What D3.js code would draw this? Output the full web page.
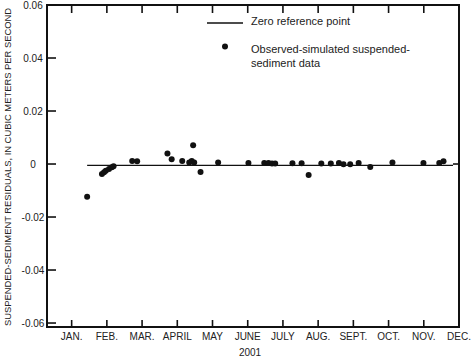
<!DOCTYPE html>
<html>
<head>
<meta charset="utf-8">
<script src="https://cdn.jsdelivr.net/npm/d3@7"></script>
<style>
  body { margin: 0; background: #fff; }
  svg { font-family: "Liberation Sans", Arial, Helvetica, sans-serif; }
</style>
</head>
<body>
<div id="chart"></div>
<script>
// month index: 0 = JAN. ... 11 = DEC.
var months = ["JAN.", "FEB.", "MAR.", "APRIL", "MAY", "JUNE", "JULY", "AUG.", "SEPT.", "OCT.", "NOV.", "DEC."];
var yTicks = [0.06, 0.04, 0.02, 0, -0.02, -0.04, -0.06];
var yTickLabels = ["0.06", "0.04", "0.02", "0", "-0.02", "-0.04", "-0.06"];

// observed-simulated residuals (time as fractional month index)
var obsTime = [0.44, 0.86, 0.92, 0.97, 1.06, 1.14, 1.19, 1.72, 1.86, 2.72, 2.84, 3.14, 3.34, 3.41, 3.45, 3.48, 3.66, 4.16,
  5.02, 5.47, 5.59, 5.69, 5.78, 6.27, 6.53, 6.73, 7.09, 7.36, 7.59, 7.72, 7.91, 8.15, 8.48, 9.11, 9.99, 10.44, 10.56];
var obsResidual = [-0.0124, -0.0038, -0.0031, -0.0025, -0.0019, -0.0012, -0.0008, 0.0011, 0.0010, 0.0040, 0.0018, 0.0011,
  0.0006, 0.0011, 0.0071, 0.0006, -0.0030, 0.0006, 0.0004, 0.0004, 0.0004, 0.0002, 0.0002, 0.0003, 0.0003, -0.0041,
  0.0002, 0.0002, 0.0004, -0.0001, -0.0001, 0.0004, -0.0011, 0.0006, 0.0004, 0.0004, 0.0010];

// zero reference line
var zeroTime = [0.44, 10.83];
var zeroValue = -0.0005;

var w = 474, h = 358;
var pL = 47, pR = 459, pT = 5, pB = 327;

var x = d3.scaleLinear().domain([-0.7, 11]).range([pL, pR]);
var y = d3.scaleLinear().domain([-0.0615, 0.06]).range([pB, pT]);

var svg = d3.select("#chart").append("svg")
    .attr("width", w)
    .attr("height", h);

// frame
svg.append("rect")
    .attr("x", pL).attr("y", pT)
    .attr("width", pR - pL).attr("height", pB - pT)
    .style("fill", "none")
    .style("stroke", "#111")
    .style("stroke-width", 2);

// month ticks, bottom (up) and top (down)
var mi = d3.range(months.length - 1);
svg.selectAll("line.xb").data(mi).enter().append("line")
    .attr("class", "xb")
    .attr("x1", function(d) { return x(d); }).attr("x2", function(d) { return x(d); })
    .attr("y1", pB).attr("y2", pB - 7)
    .style("stroke", "#111").style("stroke-width", 1.6);
svg.selectAll("line.xt").data(mi).enter().append("line")
    .attr("class", "xt")
    .attr("x1", function(d) { return x(d); }).attr("x2", function(d) { return x(d); })
    .attr("y1", pT).attr("y2", pT + 8)
    .style("stroke", "#111").style("stroke-width", 1.6);

svg.selectAll("text.xl").data(months).enter().append("text")
    .attr("class", "xl")
    .attr("x", function(d, i) { return x(i); })
    .attr("y", 340)
    .attr("text-anchor", "middle")
    .style("font-size", "10px")
    .style("fill", "#222")
    .text(function(d) { return d; });

svg.append("text")
    .attr("x", 250).attr("y", 356)
    .attr("text-anchor", "middle")
    .style("font-size", "10px")
    .style("fill", "#222")
    .text("2001");

// value ticks, left (in); right axis only marks zero
svg.selectAll("line.yl").data(yTicks).enter().append("line")
    .attr("class", "yl")
    .attr("x1", pL).attr("x2", pL + 9)
    .attr("y1", function(d) { return y(d); }).attr("y2", function(d) { return y(d); })
    .style("stroke", "#111").style("stroke-width", 1.6);
svg.append("line")
    .attr("x1", pR).attr("x2", pR - 6)
    .attr("y1", y(0)).attr("y2", y(0))
    .style("stroke", "#111").style("stroke-width", 1.6);

svg.selectAll("text.yt").data(yTicks).enter().append("text")
    .attr("class", "yt")
    .attr("x", 33)
    .attr("y", function(d) { return y(d) + 3.5; })
    .attr("text-anchor", "middle")
    .style("font-size", "10px")
    .style("fill", "#222")
    .text(function(d, i) { return yTickLabels[i]; });

svg.append("text")
    .attr("transform", "translate(11,167)rotate(-90)")
    .attr("text-anchor", "middle")
    .attr("textLength", 318)
    .attr("lengthAdjust", "spacingAndGlyphs")
    .style("font-size", "9px")
    .style("fill", "#222")
    .text("SUSPENDED-SEDIMENT RESIDUALS, IN CUBIC METERS PER SECOND");

// zero reference line
svg.append("line")
    .attr("x1", x(zeroTime[0])).attr("x2", x(zeroTime[1]))
    .attr("y1", y(zeroValue)).attr("y2", y(zeroValue))
    .style("stroke", "#111").style("stroke-width", 1.3);

// observations
svg.selectAll("circle.obs").data(obsTime).enter().append("circle")
    .attr("class", "obs")
    .attr("cx", function(d) { return x(d); })
    .attr("cy", function(d, i) { return y(obsResidual[i]); })
    .attr("r", 3)
    .style("fill", "#111");

// legend
var lg = svg.append("g");
lg.append("line")
    .attr("x1", 207).attr("x2", 243).attr("y1", 23).attr("y2", 23)
    .style("stroke", "#111").style("stroke-width", 1.3);
lg.append("text")
    .attr("x", 251).attr("y", 24.5)
    .style("font-size", "11px").style("fill", "#222")
    .text("Zero reference point");
lg.append("circle")
    .attr("cx", 225).attr("cy", 46.5).attr("r", 3)
    .style("fill", "#111");
lg.append("text")
    .attr("x", 251).attr("y", 53)
    .style("font-size", "11px").style("fill", "#222")
    .text("Observed-simulated suspended-");
lg.append("text")
    .attr("x", 251).attr("y", 67)
    .style("font-size", "11px").style("fill", "#222")
    .text("sediment data");
</script>
</body>
</html>
